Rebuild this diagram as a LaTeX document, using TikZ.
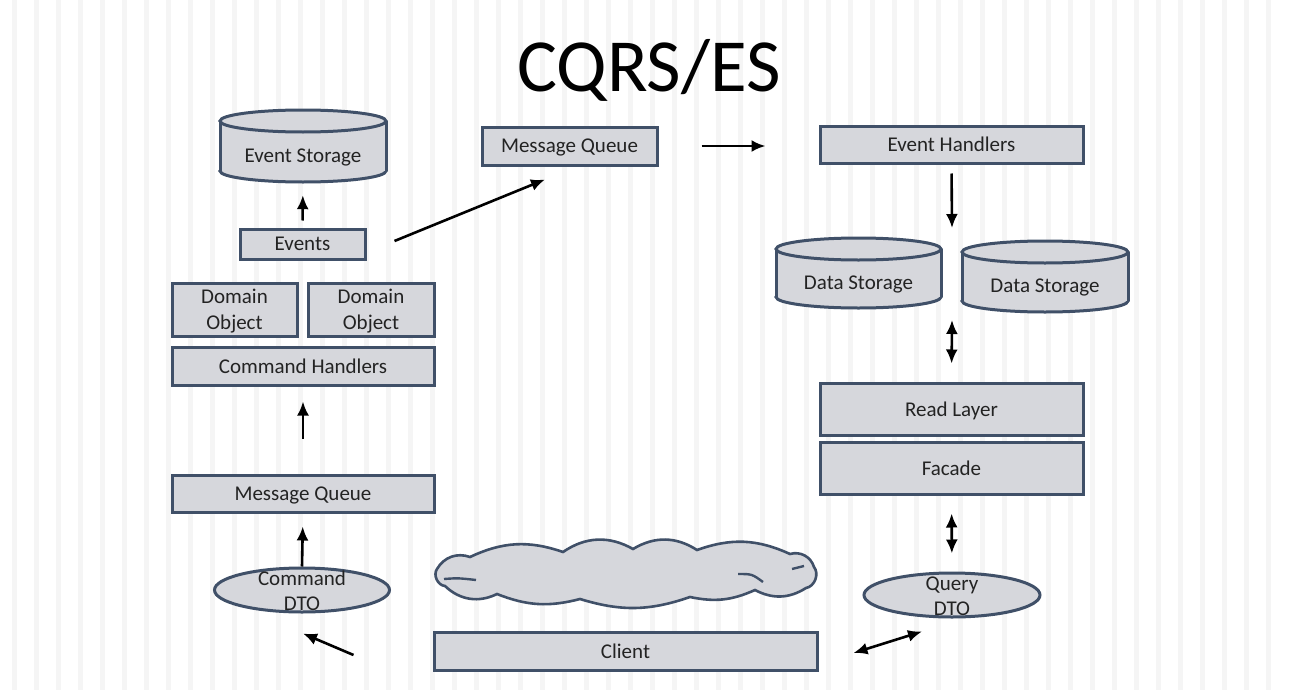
\documentclass[tikz,border=0pt]{standalone}
\usepackage{fontspec}
\setmainfont{Carlito}
\usetikzlibrary{arrows.meta,shapes.geometric}
\definecolor{boxfill}{RGB}{214,215,220}
\definecolor{boxline}{RGB}{64,80,104}
\definecolor{txt}{RGB}{35,35,35}
\definecolor{stripe}{RGB}{245,245,245}
% cylinder: name, cx, top, rx, bottom, text-center-y, text
\newcommand\mycyl[7]{%
  \pgfmathsetmacro\cyt{#3+11}\pgfmathsetmacro\cyb{#5-11}%
  \filldraw[cylst] (#2,\cyb) ellipse [x radius=#4pt, y radius=11pt];
  \fill[boxfill] ({#2-#4},\cyt) rectangle ({#2+#4},\cyb);
  \draw[cylst] ({#2-#4},\cyt) -- ({#2-#4},\cyb) ({#2+#4},\cyt) -- ({#2+#4},\cyb);
  \filldraw[cylst] (#2,\cyt) ellipse [x radius=#4pt, y radius=11pt];
  \node[inner sep=0pt, minimum width={2*#4}, minimum height={#5-#3}] (#1) at (#2,{(#3+#5)/2}) {};
  \node[lbl] (#1-t) at (#2,#6) {#7};
}
\begin{document}
\begin{tikzpicture}[x=1pt,y=-1pt,
  box/.style={draw=boxline, fill=boxfill, line width=3pt, inner sep=0pt, text=txt, font=\fontsize{21}{26}\selectfont, align=center, text depth=0pt},
  oval/.style={ellipse, draw=boxline, fill=boxfill, line width=3pt, inner sep=0pt},
  cylst/.style={draw=boxline, fill=boxfill, line width=3pt},
  lbl/.style={text=txt, font=\fontsize{21}{25}\selectfont, align=center, inner sep=0pt},
  arr/.style={line width=2.6pt, -{Latex[length=14pt,width=12pt]}},
  darr/.style={line width=2.6pt, {Latex[length=14pt,width=12pt]}-{Latex[length=14pt,width=12pt]}},
]
\useasboundingbox (0,0) rectangle (1296,696);
\fill[white] (0,0) rectangle (1296,696);
\foreach \x in {12,34,...,1270} \fill[stripe] (\x,0) rectangle (\x+5,690);

\node[font=\fontsize{75}{80}\selectfont, text=black, anchor=base, inner sep=0pt] (title) at (649,91) {CQRS/ES};

% left column
\mycyl{estorage}{303}{110}{83}{182}{157}{Event Storage}
\node[box, minimum width=125, minimum height=30] (events) at (302.5,244) {Events};
\node[box, minimum width=125, minimum height=53] (do1) at (234.5,309.5) {Domain\\Object};
\node[box, minimum width=126, minimum height=53] (do2) at (371,309.5) {Domain\\Object};
\node[box, minimum width=262, minimum height=38] (ch) at (303,366) {Command Handlers};
\node[box, minimum width=262, minimum height=37] (mq2) at (303,493.5) {Message Queue};
\node[oval, minimum width=175, minimum height=44] (cdto) at (302,590) {};
\node[lbl] (cdto-t) at (302,591) {Command\\DTO};

% top middle
\node[box, minimum width=175, minimum height=38] (mq1) at (569.5,146) {Message Queue};

% right column
\node[box, minimum width=263, minimum height=37] (eh) at (951.5,144.5) {Event Handlers};
\mycyl{ds1}{858.5}{238}{82.5}{308}{284}{Data Storage}
\mycyl{ds2}{1045}{241}{83}{312}{287}{Data Storage}
\node[box, minimum width=263, minimum height=52] (rl) at (951.5,409) {Read Layer};
\node[box, minimum width=263, minimum height=52] (fac) at (951.5,468) {Facade};
\node[oval, minimum width=176, minimum height=44] (qdto) at (952,595) {};
\node[lbl] (qdto-t) at (952,596) {Query\\DTO};

% bottom middle: cloud
\filldraw[cylst, line width=2.6pt] (437,569) to[bend left=40] (470,557) to[bend left=22] (563,552)
  to[bend left=32] (633,549) to[bend left=32] (697,550) to[bend left=22] (790,554)
  to[bend left=45] (814,567) to[bend left=60] (806,588) to[bend left=30] (755,590)
  to[bend left=18] (690,597) to[bend left=18] (580,599) to[bend left=18] (497,594)
  to[bend left=35] (445,586) to[bend left=60] cycle;
\coordinate (cloud) at (625.5,573);
\draw[boxline, line width=2.4pt] (444,579) .. controls (458,578) .. (476,580);
\draw[boxline, line width=2.4pt] (738,574) .. controls (752,574) .. (763,582);
\draw[boxline, line width=2.4pt] (792,569) -- (804,566);
\node[box, minimum width=383, minimum height=38] (client) at (625.5,651) {Client};

% connectors
\coordinate (gap1) at (952,228);
\coordinate (gap2) at (952,320);
\draw[arr, shorten <=7pt, shorten >=13pt] (events.north) -- (estorage.south);
\draw[arr] ([xshift=28pt,yshift=3pt]events.east) -- ([xshift=-24.5pt,yshift=-13pt]mq1.south);
\draw[arr, shorten <=43pt, shorten >=53pt] (mq1.east) -- (mq1.east -| eh.west);
\draw[arr, shorten <=9pt] (eh.south) -- (gap1);
\draw[darr, shorten >=18pt] (gap2) -- (rl.north);
\draw[darr, shorten <=18pt, shorten >=18pt] (fac.south) -- (qdto.north);
\draw[darr] ([xshift=35pt,yshift=-2pt]client.east) -- ([xshift=-30pt,yshift=-13pt]qdto.south);
\draw[arr] ([xshift=-79pt,yshift=-4pt]client.west) -- ([xshift=1pt,yshift=-20pt]cdto.south);
\draw[arr, shorten >=13pt] (cdto.north) -- (mq2.south);
\draw[arr, shorten <=35pt, shorten >=15pt] (mq2.north) -- (ch.south);
\end{tikzpicture}
\end{document}
